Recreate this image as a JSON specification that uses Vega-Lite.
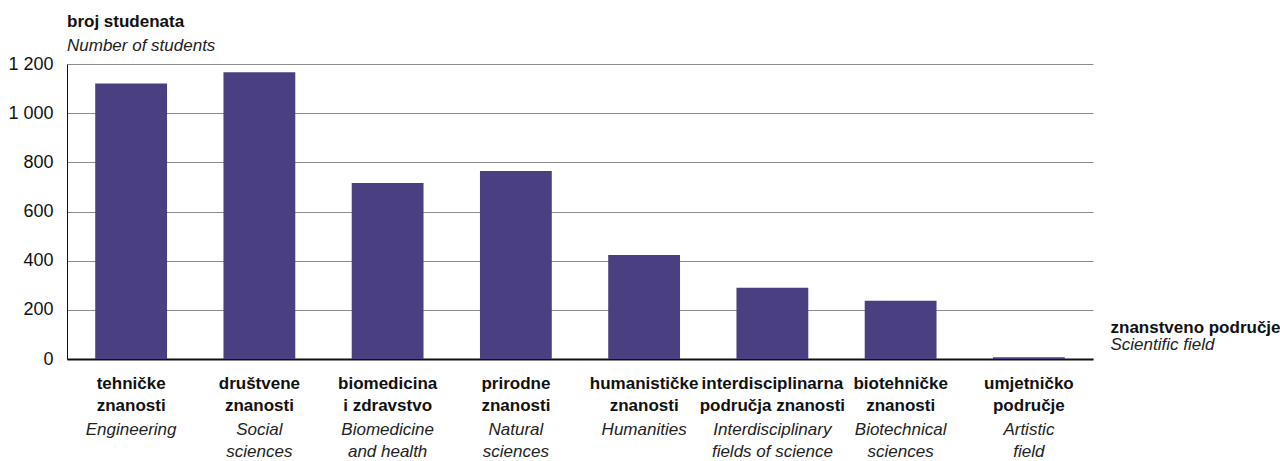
{
  "$schema": "https://vega.github.io/schema/vega-lite/v6.json",
  "width": 1026,
  "height": 295,
  "autosize": {"type": "none"},
  "padding": {"left": 67, "top": 64, "right": 187, "bottom": 102},
  "background": "white",
  "config": {"view": {"stroke": null}, "font": "Liberation Sans"},
  "title": {
    "text": "broj studenata",
    "subtitle": "Number of students",
    "anchor": "start",
    "frame": "group",
    "font": "Liberation Sans",
    "fontSize": 17,
    "fontWeight": "bold",
    "color": "#111111",
    "subtitleFont": "Liberation Sans",
    "subtitleFontSize": 17,
    "subtitleFontStyle": "italic",
    "subtitleColor": "#222222",
    "subtitlePadding": 7,
    "offset": 0
  },
  "data": {
    "values": [
      {"key": "tehničke|znanosti#Engineering", "value": 1121},
      {"key": "društvene|znanosti#Social|sciences", "value": 1166},
      {"key": "biomedicina|i zdravstvo#Biomedicine|and health", "value": 716},
      {"key": "prirodne|znanosti#Natural|sciences", "value": 765},
      {"key": "humanističke|znanosti#Humanities", "value": 423},
      {"key": "interdisciplinarna|područja znanosti#Interdisciplinary|fields of science", "value": 290},
      {"key": "biotehničke|znanosti#Biotechnical|sciences", "value": 237},
      {"key": "umjetničko|područje#Artistic|field", "value": 7}
    ]
  },
  "layer": [
    {
      "mark": {"type": "bar", "color": "#4a3f81"},
      "encoding": {
        "x": {
          "field": "key",
          "type": "nominal",
          "sort": null,
          "scale": {"paddingInner": 0.44, "paddingOuter": 0.22},
          "axis": {
            "orient": "bottom",
            "title": "znanstveno područje",
            "labelExpr": "split(split(datum.value,'#')[0],'|')",
            "labelAngle": 0,
            "labelFont": "Liberation Sans",
            "labelFontSize": 17,
            "labelFontWeight": "bold",
            "labelColor": "#111111",
            "labelBaseline": "alphabetic",
            "labelPadding": 29,
            "labelLineHeight": 22,
            "labelOverlap": false,
            "labelBound": false,
            "labelLimit": 0,
            "ticks": false,
            "tickSize": 0,
            "grid": false,
            "domainColor": "#111111",
            "domainWidth": 2,
            "titleX": 1043,
            "titleY": -27,
            "titleAlign": "left",
            "titleAnchor": null,
            "titleBaseline": "alphabetic",
            "titleFont": "Liberation Sans",
            "titleFontSize": 17,
            "titleFontWeight": "bold",
            "titleColor": "#111111"
          }
        },
        "y": {
          "field": "value",
          "type": "quantitative",
          "scale": {"domain": [0, 1200], "nice": false},
          "axis": {
            "title": null,
            "values": [0, 200, 400, 600, 800, 1000, 1200],
            "labelExpr": "replace(format(datum.value, ','), ',', ' ')",
            "labelFont": "Liberation Sans",
            "labelFontSize": 18,
            "labelColor": "#111111",
            "labelPadding": 14,
            "ticks": false,
            "tickSize": 0,
            "domainColor": "#111111",
            "domainWidth": 1,
            "gridColor": "#8c8c8c",
            "gridWidth": 1,
            "gridOpacity": 1,
            "zindex": 0
          }
        }
      }
    },
    {
      "mark": {"type": "bar", "opacity": 0},
      "encoding": {
        "x": {
          "field": "key",
          "type": "nominal",
          "sort": null,
          "axis": {
            "orient": "bottom",
            "title": "Scientific field",
            "domain": false,
            "labelExpr": "split(split(datum.value,'#')[1],'|')",
            "labelAngle": 0,
            "labelFont": "Liberation Sans",
            "labelFontSize": 17,
            "labelFontStyle": "italic",
            "labelColor": "#222222",
            "labelBaseline": "alphabetic",
            "labelPadding": 75,
            "labelLineHeight": 22,
            "labelOverlap": false,
            "labelBound": false,
            "labelLimit": 0,
            "ticks": false,
            "tickSize": 0,
            "grid": false,
            "titleX": 1043,
            "titleY": -10,
            "titleAlign": "left",
            "titleAnchor": null,
            "titleBaseline": "alphabetic",
            "titleFont": "Liberation Sans",
            "titleFontSize": 17,
            "titleFontStyle": "italic",
            "titleFontWeight": "normal",
            "titleColor": "#222222"
          }
        },
        "y": {"field": "value", "type": "quantitative"}
      }
    }
  ],
  "resolve": {"axis": {"x": "independent"}}
}
